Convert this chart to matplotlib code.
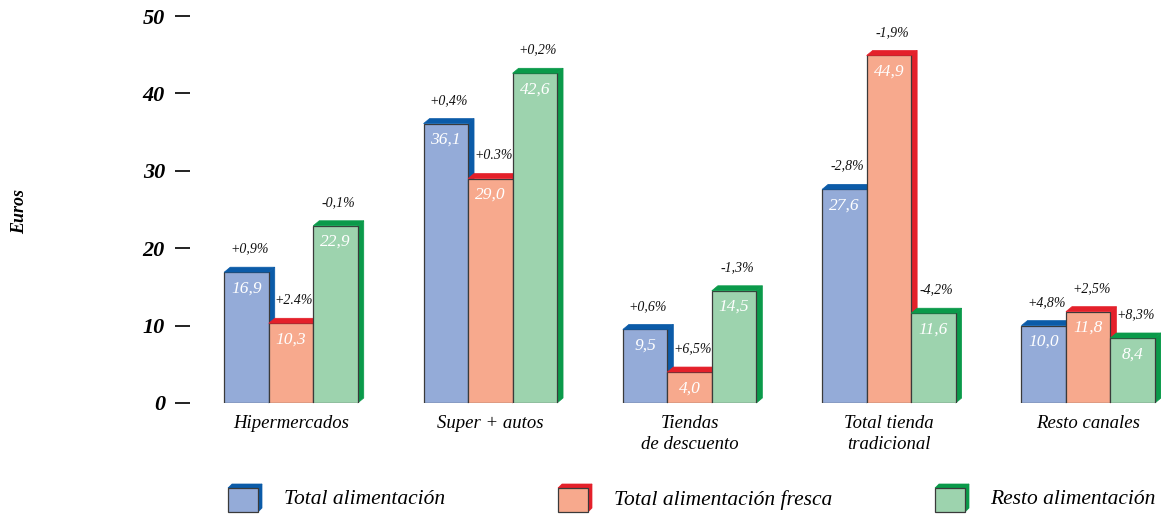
"""Gasto per cápita en alimentación por canal de compra (euros)."""
import matplotlib.pyplot as plt
from matplotlib.patches import Polygon, Rectangle

canales = ["Hipermercados", "Super + autos", "Tiendas\nde descuento",
           "Total tienda\ntradicional", "Resto canales"]
series = ["Total alimentación", "Total alimentación fresca", "Resto alimentación"]

total_alim = [16.9, 36.1, 9.5, 27.6, 10.0]
total_fresca = [10.3, 29.0, 4.0, 44.9, 11.8]
resto_alim = [22.9, 42.6, 14.5, 11.6, 8.4]

var_total = ["+0,9%", "+0,4%", "+0,6%", "-2,8%", "+4,8%"]
var_fresca = ["+2.4%", "+0.3%", "+6,5%", "-1,9%", "+2,5%"]
var_resto = ["-0,1%", "+0,2%", "-1,3%", "-4,2%", "+8,3%"]

FRONT = ["#94abd8", "#f7a98d", "#9dd3ae"]
DARK = ["#0b5ba8", "#e4202a", "#0a9a4a"]
EDGE = "#3a3a3a"
SERIF = "Liberation Serif"

W, H = 1161, 515
fig = plt.figure(figsize=(W / 100, H / 100), dpi=100)

# eje principal: 0 en y=403 px, 50 en y=16 px; grupos cada ~199 px
ax = fig.add_axes([190 / W, 112 / H, (W - 190) / W, 387 / H])
ax.set_ylim(0, 50)
ax.set_xlim((190 - 291) / 199.3, (W - 291) / 199.3)
for s in ax.spines.values():
    s.set_visible(False)
ax.set_xticks([])
ax.set_yticks(range(0, 51, 10))
ax.set_yticklabels([str(v) for v in range(0, 51, 10)],
                   fontfamily=SERIF, fontstyle="italic", fontweight="bold", fontsize=16)
ax.tick_params(axis="y", length=11, width=1.4, pad=7, color="#222222")

bw = 44.5 / 199.3          # ancho de barra
dx = 6 / 199.3             # profundidad horizontal del efecto 3D
dy = 5 / 7.74              # profundidad vertical del efecto 3D


def bar3d(x0, h, k, z):
    ax.bar(x0, h, width=bw, align="edge", color=FRONT[k], edgecolor=EDGE,
           linewidth=0.9, zorder=z)
    x1 = x0 + bw
    top = Polygon([(x0, h), (x1, h), (x1 + dx, h + dy), (x0 + dx, h + dy)],
                  closed=True, facecolor=DARK[k], edgecolor=DARK[k], lw=0.5,
                  zorder=z, clip_on=False)
    side = Polygon([(x1, 0), (x1 + dx, dy), (x1 + dx, h + dy), (x1, h)],
                   closed=True, facecolor=DARK[k], edgecolor=DARK[k], lw=0.5,
                   zorder=z - 0.5, clip_on=False)
    ax.add_patch(side)
    ax.add_patch(top)


valores = [total_alim, total_fresca, resto_alim]
variaciones = [var_total, var_fresca, var_resto]
for i, canal in enumerate(canales):
    for k in range(3):
        x0 = i - 1.5 * bw + k * bw
        h = valores[k][i]
        bar3d(x0, h, k, 3 + k)
        ax.text(x0 + bw / 2, h - 2.1, f"{h:.1f}".replace(".", ","), ha="center",
                va="center", color="white", fontfamily=SERIF, fontstyle="italic",
                fontsize=12.5, zorder=10)
        ax.text(x0 + bw / 2 + dx / 2, h + 3.0, variaciones[k][i], ha="center",
                va="center", color="#111111", fontfamily=SERIF, fontstyle="italic",
                fontsize=10, zorder=10)
    ax.text(i, -1.6, canal, ha="center", va="top", fontfamily=SERIF,
            fontstyle="italic", fontsize=13.5, linespacing=1.3)

# capa en píxeles para rótulo del eje y leyenda
ov = fig.add_axes([0, 0, 1, 1], facecolor="none")
ov.set_xlim(0, W)
ov.set_ylim(H, 0)
ov.axis("off")
ov.text(20, 212, "Euros", rotation=90, ha="center", va="center", fontfamily=SERIF,
        fontstyle="italic", fontweight="bold", fontsize=13)

for k, (bx, tx) in enumerate([(228, 284), (558, 614), (935, 990)]):
    ov.add_patch(Polygon([(bx + 30, 488), (bx + 34, 484), (bx + 34, 508), (bx + 30, 512)],
                         facecolor=DARK[k], edgecolor=DARK[k], lw=0.5))
    ov.add_patch(Polygon([(bx, 488), (bx + 4, 484), (bx + 34, 484), (bx + 30, 488)],
                         facecolor=DARK[k], edgecolor=DARK[k], lw=0.5))
    ov.add_patch(Rectangle((bx, 488), 30, 24, facecolor=FRONT[k], edgecolor=EDGE, lw=0.9))
    ov.text(tx, 500, series[k], ha="left", va="center", fontfamily=SERIF,
            fontstyle="italic", fontsize=15.5)

fig.savefig("out.png", dpi=100)
